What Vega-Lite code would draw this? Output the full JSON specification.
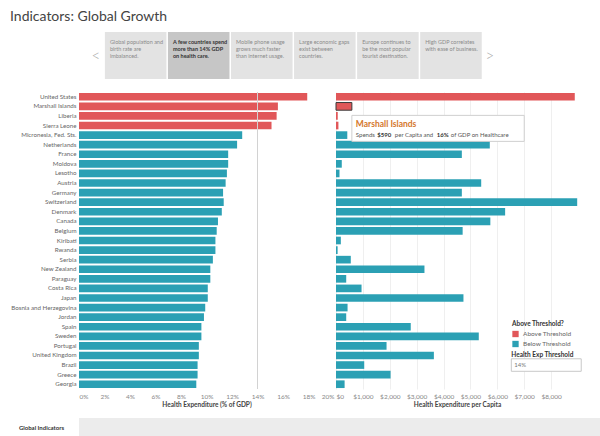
{
  "$schema": "https://vega.github.io/schema/vega-lite/v6.json",
  "padding": {"top": 10, "left": 0, "right": 0, "bottom": 0},
  "background": "white",
  "title": {"text": "Indicators: Global Growth", "anchor": "start", "dx": 10, "fontSize": 14, "font": "Lato", "fontWeight": "normal", "color": "#444", "offset": 8},
  "config": {"view": {"stroke": null}, "font": "Lato"},
  "datasets": {
    "countries": [
      {"country": "United States", "gdp": 0.179, "pc": 8880, "group": "Above Threshold"},
      {"country": "Marshall Islands", "gdp": 0.156, "pc": 590, "group": "Above Threshold"},
      {"country": "Liberia", "gdp": 0.155, "pc": 65, "group": "Above Threshold"},
      {"country": "Sierra Leone", "gdp": 0.151, "pc": 90, "group": "Above Threshold"},
      {"country": "Micronesia, Fed. Sts.", "gdp": 0.128, "pc": 420, "group": "Below Threshold"},
      {"country": "Netherlands", "gdp": 0.124, "pc": 5720, "group": "Below Threshold"},
      {"country": "France", "gdp": 0.117, "pc": 4680, "group": "Below Threshold"},
      {"country": "Moldova", "gdp": 0.117, "pc": 215, "group": "Below Threshold"},
      {"country": "Lesotho", "gdp": 0.116, "pc": 130, "group": "Below Threshold"},
      {"country": "Austria", "gdp": 0.115, "pc": 5400, "group": "Below Threshold"},
      {"country": "Germany", "gdp": 0.113, "pc": 4680, "group": "Below Threshold"},
      {"country": "Switzerland", "gdp": 0.1135, "pc": 8970, "group": "Below Threshold"},
      {"country": "Denmark", "gdp": 0.112, "pc": 6290, "group": "Below Threshold"},
      {"country": "Canada", "gdp": 0.109, "pc": 5740, "group": "Below Threshold"},
      {"country": "Belgium", "gdp": 0.108, "pc": 4710, "group": "Below Threshold"},
      {"country": "Kiribati", "gdp": 0.107, "pc": 180, "group": "Below Threshold"},
      {"country": "Rwanda", "gdp": 0.107, "pc": 60, "group": "Below Threshold"},
      {"country": "Serbia", "gdp": 0.105, "pc": 550, "group": "Below Threshold"},
      {"country": "New Zealand", "gdp": 0.103, "pc": 3290, "group": "Below Threshold"},
      {"country": "Paraguay", "gdp": 0.103, "pc": 380, "group": "Below Threshold"},
      {"country": "Costa Rica", "gdp": 0.101, "pc": 950, "group": "Below Threshold"},
      {"country": "Japan", "gdp": 0.101, "pc": 4740, "group": "Below Threshold"},
      {"country": "Bosnia and Herzegovina", "gdp": 0.099, "pc": 430, "group": "Below Threshold"},
      {"country": "Jordan", "gdp": 0.098, "pc": 380, "group": "Below Threshold"},
      {"country": "Spain", "gdp": 0.096, "pc": 2780, "group": "Below Threshold"},
      {"country": "Sweden", "gdp": 0.096, "pc": 5310, "group": "Below Threshold"},
      {"country": "Portugal", "gdp": 0.094, "pc": 1880, "group": "Below Threshold"},
      {"country": "United Kingdom", "gdp": 0.094, "pc": 3640, "group": "Below Threshold"},
      {"country": "Brazil", "gdp": 0.093, "pc": 1050, "group": "Below Threshold"},
      {"country": "Greece", "gdp": 0.093, "pc": 2030, "group": "Below Threshold"},
      {"country": "Georgia", "gdp": 0.092, "pc": 320, "group": "Below Threshold"}
    ],
    "stories": [
      {"id": 1, "label": "Global population and\nbirth rate are\nimbalanced."},
      {"id": 2, "label": "A few countries spend\nmore than 14% GDP\non health care."},
      {"id": 3, "label": "Mobile phone usage\ngrows much faster\nthan internet usage."},
      {"id": 4, "label": "Large economic gaps\nexist between\ncountries."},
      {"id": 5, "label": "Europe continues to\nbe the most popular\ntourist destination."},
      {"id": 6, "label": "High GDP correlates\nwith ease of business."}
    ]
  },
  "spacing": 12,
  "vconcat": [
    {
      "width": 420,
      "height": 47,
      "data": {"name": "stories"},
      "encoding": {
        "x": {"field": "id", "type": "ordinal", "axis": null, "scale": {"paddingInner": 0.024, "paddingOuter": 0.342, "align": 0.6}}
      },
      "layer": [
        {
          "mark": {"type": "rect"},
          "encoding": {
            "color": {"condition": {"test": "datum.id === 2", "value": "#c6c6c6"}, "value": "#e3e3e3"}
          }
        },
        {
          "transform": [{"filter": "datum.id !== 2"}],
          "mark": {"type": "text", "align": "left", "baseline": "top", "dx": 5, "dy": -16, "fontSize": 5.5, "lineHeight": 7, "lineBreak": "\n", "color": "#8a8a8a"},
          "encoding": {"x": {"field": "id", "type": "ordinal", "bandPosition": 0}, "text": {"field": "label"}}
        },
        {
          "transform": [{"filter": "datum.id === 2"}],
          "mark": {"type": "text", "align": "left", "baseline": "top", "dx": 5, "dy": -16, "fontSize": 5.5, "lineHeight": 7, "lineBreak": "\n", "fontWeight": "bold", "color": "#333"},
          "encoding": {"x": {"field": "id", "type": "ordinal", "bandPosition": 0}, "text": {"field": "label"}}
        },
        {
          "transform": [{"filter": "datum.id === 1"}],
          "mark": {"type": "text", "align": "center", "baseline": "middle", "dx": -9, "fontSize": 15, "fontWeight": 300, "color": "#a8a8a8"},
          "encoding": {"x": {"field": "id", "type": "ordinal", "bandPosition": 0}, "text": {"value": "<"}}
        },
        {
          "transform": [{"filter": "datum.id === 6"}],
          "mark": {"type": "text", "align": "center", "baseline": "middle", "dx": 8, "fontSize": 15, "fontWeight": 300, "color": "#a8a8a8"},
          "encoding": {"x": {"field": "id", "type": "ordinal", "bandPosition": 1}, "text": {"value": ">"}}
        }
      ]
    },
    {
      "spacing": 10,
      "vconcat": [
        {
          "spacing": 1,
          "resolve": {"scale": {"color": "independent"}, "legend": {"color": "independent"}},
          "hconcat": [
            {
              "width": 255,
              "height": 297,
              "data": {"name": "countries"},
              "resolve": {"axis": {"x": "independent"}},
              "layer": [
                {
                  "mark": {"type": "bar"},
                  "encoding": {
                    "y": {"field": "country", "type": "nominal", "sort": null, "scale": {"paddingInner": 0.2, "paddingOuter": 0.1},
                      "axis": {"title": null, "ticks": false, "domain": false, "labelPadding": 3, "labelFontSize": 6.2, "labelColor": "#666", "minExtent": 79, "labelLimit": 150}},
                    "x": {"field": "gdp", "type": "quantitative", "scale": {"domain": [0, 0.2], "nice": false},
                      "axis": {"orient": "bottom", "values": [0, 0.04, 0.08, 0.12, 0.16, 0.2], "format": ".0%", "grid": false, "ticks": false, "domain": false, "labelFlush": false, "labelOverlap": false, "labelBound": false,
                        "labelAlign": {"condition": [{"test": "datum.value <= 0", "value": "left"}, {"test": "datum.value >= 0.2", "value": "right"}], "value": "center"},
                        "labelFontSize": 6.5, "labelColor": "#888", "labelPadding": 4, "title": "Health Expenditure (% of GDP)", "titleFontSize": 6.5, "titleFontWeight": "bold", "titleColor": "#444", "titlePadding": 2}},
                    "color": {"field": "group", "type": "nominal", "scale": {"domain": ["Above Threshold", "Below Threshold"], "range": ["#e15759", "#2ba0b4"]}, "legend": null}
                  }
                },
                {
                  "data": {"values": [{}]},
                  "mark": {"type": "rule", "color": "#d2d2d2", "strokeWidth": 1},
                  "encoding": {"x": {"datum": 0.14, "type": "quantitative",
                    "axis": {"orient": "bottom", "values": [0.02, 0.06, 0.1, 0.14, 0.18], "format": ".0%", "grid": false, "ticks": false, "domain": false, "labelFlush": false, "labelOverlap": false, "labelFontSize": 6.5, "labelColor": "#888", "labelPadding": 4, "title": null}}}
                }
              ]
            },
            {
              "width": 242,
              "height": 297,
              "data": {"name": "countries"},
              "resolve": {"axis": {"x": "independent"}},
              "encoding": {
                "y": {"field": "country", "type": "nominal", "axis": null,
                  "scale": {"paddingInner": 0.2, "paddingOuter": 0.1, "domain": ["United States", "Marshall Islands", "Liberia", "Sierra Leone", "Micronesia, Fed. Sts.", "Netherlands", "France", "Moldova", "Lesotho", "Austria", "Germany", "Switzerland", "Denmark", "Canada", "Belgium", "Kiribati", "Rwanda", "Serbia", "New Zealand", "Paraguay", "Costa Rica", "Japan", "Bosnia and Herzegovina", "Jordan", "Spain", "Sweden", "Portugal", "United Kingdom", "Brazil", "Greece", "Georgia"]}}
              },
              "layer": [
                {
                  "mark": {"type": "bar", "stroke": "#3a3a3a"},
                  "encoding": {
                    "x": {"field": "pc", "type": "quantitative", "scale": {"domain": [0, 9000], "nice": false},
                      "axis": {"orient": "bottom", "values": [0, 2000, 4000, 6000, 8000], "format": "$,.0f", "grid": true, "gridColor": "#efefef", "ticks": false, "domain": false, "labelFlush": false, "labelOverlap": false,
                        "labelAlign": {"condition": {"test": "datum.value <= 0", "value": "left"}, "value": "center"},
                        "labelFontSize": 6.5, "labelColor": "#888", "labelPadding": 4, "title": "Health Expenditure per Capita", "titleFontSize": 6.5, "titleFontWeight": "bold", "titleColor": "#444", "titlePadding": 2}},
                    "color": {"field": "group", "type": "nominal", "scale": {"domain": ["Above Threshold", "Below Threshold"], "range": ["#e15759", "#2ba0b4"]},
                      "legend": {"title": "Above Threshold?", "orient": "none", "legendX": 176, "legendY": 229, "padding": 0, "titleFontSize": 6.5, "titleFontWeight": "bold", "titleColor": "#333", "titlePadding": 3, "labelFontSize": 6.5, "labelColor": "#666", "labelOffset": 4, "symbolType": "square", "symbolSize": 40, "symbolStrokeWidth": 0, "rowPadding": 3}},
                    "strokeWidth": {"condition": {"test": "datum.country === 'Marshall Islands'", "value": 1}, "value": 0}
                  }
                },
                {
                  "transform": [{"filter": "datum.country === 'Marshall Islands'"}],
                  "mark": {"type": "rect", "fill": "white", "stroke": "#cfcfcf", "strokeWidth": 1, "height": 26, "yOffset": 22},
                  "encoding": {"x": {"field": "pc", "type": "quantitative",
                    "axis": {"orient": "bottom", "values": [1000, 3000, 5000, 7000], "format": "$,.0f", "grid": true, "gridColor": "#efefef", "ticks": false, "domain": false, "labelFlush": false, "labelOverlap": false,
                      "labelFontSize": 6.5, "labelColor": "#888", "labelPadding": 4, "title": null}},
                    "x2": {"datum": 7000}, "y": {"field": "country", "type": "nominal"}}
                },
                {
                  "transform": [{"filter": "datum.country === 'Marshall Islands'"}],
                  "mark": {"type": "text", "align": "left", "baseline": "middle", "dx": 4, "dy": 18, "fontSize": 8.5, "fontWeight": "bold", "color": "#d4772c"},
                  "encoding": {"x": {"field": "pc", "type": "quantitative", "axis": null}, "y": {"field": "country", "type": "nominal"}, "text": {"field": "country"}}
                },
                {
                  "transform": [{"filter": "datum.country === 'Marshall Islands'"}],
                  "mark": {"type": "text", "align": "left", "baseline": "middle", "dx": 4, "dy": 28.3, "fontSize": 6, "color": "#555"},
                  "encoding": {"x": {"field": "pc", "type": "quantitative", "axis": null}, "y": {"field": "country", "type": "nominal"}, "text": {"value": "Spends"}}
                },
                {
                  "transform": [{"filter": "datum.country === 'Marshall Islands'"}],
                  "mark": {"type": "text", "align": "left", "baseline": "middle", "dx": 25.5, "dy": 28.3, "fontSize": 6, "fontWeight": "bold", "color": "#333"},
                  "encoding": {"x": {"field": "pc", "type": "quantitative", "axis": null}, "y": {"field": "country", "type": "nominal"}, "text": {"field": "pc", "type": "quantitative", "format": "$,.0f"}}
                },
                {
                  "transform": [{"filter": "datum.country === 'Marshall Islands'"}],
                  "mark": {"type": "text", "align": "left", "baseline": "middle", "dx": 43, "dy": 28.3, "fontSize": 6, "color": "#555"},
                  "encoding": {"x": {"field": "pc", "type": "quantitative", "axis": null}, "y": {"field": "country", "type": "nominal"}, "text": {"value": "per Capita and"}}
                },
                {
                  "transform": [{"filter": "datum.country === 'Marshall Islands'"}],
                  "mark": {"type": "text", "align": "left", "baseline": "middle", "dx": 85, "dy": 28.3, "fontSize": 6, "fontWeight": "bold", "color": "#333"},
                  "encoding": {"x": {"field": "pc", "type": "quantitative", "axis": null}, "y": {"field": "country", "type": "nominal"}, "text": {"field": "gdp", "type": "quantitative", "format": ".0%"}}
                },
                {
                  "transform": [{"filter": "datum.country === 'Marshall Islands'"}],
                  "mark": {"type": "text", "align": "left", "baseline": "middle", "dx": 99, "dy": 28.3, "fontSize": 6, "color": "#555"},
                  "encoding": {"x": {"field": "pc", "type": "quantitative", "axis": null}, "y": {"field": "country", "type": "nominal"}, "text": {"value": "of GDP on Healthcare"}}
                },
                {
                  "transform": [{"filter": "datum.country === 'United Kingdom'"}],
                  "mark": {"type": "text", "align": "left", "baseline": "middle", "fontSize": 6.5, "fontWeight": "bold", "color": "#333"},
                  "encoding": {"x": {"datum": 6520, "type": "quantitative", "axis": null}, "y": {"field": "country", "type": "nominal"}, "text": {"value": "Health Exp Threshold"}}
                },
                {
                  "transform": [{"filter": "datum.country === 'Brazil'"}],
                  "mark": {"type": "rect", "fill": "white", "stroke": "#c8c8c8", "strokeWidth": 1, "height": 12.5},
                  "encoding": {"x": {"datum": 6520, "type": "quantitative", "axis": null}, "x2": {"datum": 9120}, "y": {"field": "country", "type": "nominal"}}
                },
                {
                  "transform": [{"filter": "datum.country === 'Brazil'"}],
                  "mark": {"type": "text", "align": "left", "baseline": "middle", "fontSize": 6, "color": "#777", "dx": 3},
                  "encoding": {"x": {"datum": 6520, "type": "quantitative", "axis": null}, "y": {"field": "country", "type": "nominal"}, "text": {"value": "14%"}}
                }
              ]
            }
          ]
        },
        {
          "width": 521,
          "height": 18,
          "view": {"fill": "#ececec"},
          "data": {"values": [{"tab": "Global Indicators"}]},
          "mark": {"type": "text"},
          "encoding": {
            "y": {"field": "tab", "type": "nominal", "axis": {"title": null, "ticks": false, "domain": false, "labelAlign": "center", "labelPadding": 38, "labelFontSize": 6, "labelFontWeight": "bold", "labelColor": "#333", "minExtent": 79}},
            "text": {"value": ""}
          }
        }
      ]
    }
  ]
}
